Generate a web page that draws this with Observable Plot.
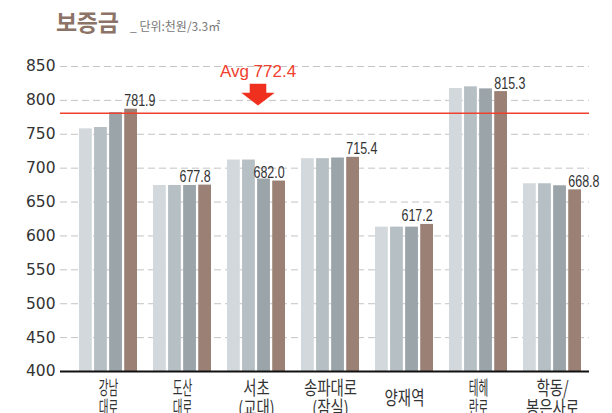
<!DOCTYPE html>
<html><head><meta charset="utf-8">
<script src="https://cdn.jsdelivr.net/npm/d3@7"></script>
<script src="https://cdn.jsdelivr.net/npm/@observablehq/plot@0.6"></script>
<style>
body{margin:0;background:#fff;}
#hdr{position:relative;height:44px;width:612px;}
#t{position:absolute;left:56px;top:8px;font:bold 23px/26px "Noto Sans CJK KR";color:#8c7367;letter-spacing:-0.3px;white-space:nowrap}
#s{position:absolute;left:130px;top:19px;font:12px/14px "Noto Sans CJK KR";color:#777;white-space:nowrap}
</style></head><body>
<div id="hdr"><span id="t">보증금</span><span id="s">_ 단위:천원/3.3㎡</span></div>
<div id="chart"></div>
<script>
const categories = ["강남대로", "도산대로", "서초(교대)", "송파대로(잠실)", "양재역", "테헤란로", "학동/봉은사로"];
const catLabels = ["강남\n대로", "도산\n대로", "서초\n(교대)", "송파대로\n(잠실)", "양재역", "테헤\n란로", "학동/\n봉은사로"];
const series1 = [758, 674.5, 712, 714, 613, 817.5, 677];
const series2 = [760, 674.5, 712, 714, 613, 820, 677];
const series3 = [782, 674.5, 684, 715, 613, 817, 674];
const series4 = [787, 675, 681, 716, 617, 813, 668];
const valueLabels = ["781.9", "677.8", "682.0", "715.4", "617.2", "815.3", "668.8"];
const avgLabel = "Avg 772.4";
const avgLine = 781;
const avgAnchor = "서초(교대)";
const yTicks = [400, 450, 500, 550, 600, 650, 700, 750, 800, 850];
const colors = ["#d2d8db", "#b6bfc3", "#9aa4a9", "#9b8175"];

const series = [series1, series2, series3, series4];
const rows = categories.map((c, i) => ({cat: c, i, v: series.map(s => s[i])}));

const xRange = [68.6, 592.4];
const bw = (xRange[1] - xRange[0]) / categories.length;
const barStep = 15.07, barW = 13.6;
const inset = (bw - barW) / 2;
const bar4Left = 1.5 * barStep - barW / 2;

// label shifted left when the next group would collide with it
const shifted = rows.map((d, i) => i < rows.length - 1 && Math.max(...rows[i + 1].v) > d.v[3] - 30);

const arrowSymbol = {
  draw(ctx, size) {
    const k = Math.sqrt(size / Math.PI);
    ctx.moveTo(-8.3 * k, -10.9 * k);
    ctx.lineTo(8.3 * k, -10.9 * k);
    ctx.lineTo(8.3 * k, -1.9 * k);
    ctx.lineTo(16.7 * k, -1.9 * k);
    ctx.lineTo(0, 10.8 * k);
    ctx.lineTo(-16.7 * k, -1.9 * k);
    ctx.lineTo(-8.3 * k, -1.9 * k);
    ctx.closePath();
  }
};

const marks = [
  Plot.ruleY(yTicks.filter(t => t > 400), {stroke: "#c4c4c4", strokeWidth: 1, strokeDasharray: "7,4"})
];
series.forEach((s, j) => {
  marks.push(Plot.barY(rows, {x: "cat", y1: 400, y2: d => d.v[j], fill: colors[j], insetLeft: inset, insetRight: inset, dx: (j - 1.5) * barStep}));
});
marks.push(
  Plot.ruleY([400], {stroke: "#111", strokeWidth: 2}),
  Plot.ruleY([avgLine], {stroke: "#f0402e", strokeWidth: 1.3}),
  Plot.text(rows.filter((d, i) => !shifted[i]), {x: "cat", y: d => d.v[3], text: d => valueLabels[d.i], textAnchor: "start", lineAnchor: "bottom", dx: bar4Left, dy: -3, fontSize: 16, fontFamily: "Liberation Sans", fill: "#333"}),
  Plot.text(rows.filter((d, i) => shifted[i]), {x: "cat", y: d => d.v[3], text: d => valueLabels[d.i], textAnchor: "start", lineAnchor: "bottom", dx: -3, dy: -3, fontSize: 16, fontFamily: "Liberation Sans", fill: "#333"}),
  Plot.text([avgLabel], {x: () => avgAnchor, y: () => avgLine, text: d => d, textAnchor: "middle", lineAnchor: "bottom", dx: 1.5, dy: -36, fontSize: 17, fontFamily: "Liberation Sans", fill: "#f0402e"}),
  Plot.dot([avgAnchor], {x: d => d, y: () => avgLine, symbol: arrowSymbol, r: 1, fill: "#f0301e", stroke: "none", dx: 1.5, dy: -18.5}),
  Plot.text(categories, {x: d => d, y: () => 400, text: (d, i) => catLabels[i], textAnchor: "middle", lineAnchor: "middle", lineHeight: 1.06, dy: 27, fontSize: 19, fontFamily: "Noto Sans CJK KR", fill: "#333"})
);

const plot = Plot.plot({
  width: 612,
  height: 369,
  marginTop: 22,
  marginBottom: 42,
  marginLeft: 60,
  marginRight: 23,
  style: {fontFamily: "DejaVu Sans", fontSize: "15.5px", color: "#333", background: "#fff", overflow: "visible"},
  x: {type: "band", domain: categories, range: xRange, padding: 0, axis: null},
  y: {domain: [400, 850], ticks: 9, tickSize: 0, tickPadding: 5, label: null, tickFormat: d => String(d)},
  marks
});
document.getElementById("chart").appendChild(plot);

// horizontal condensation of the label fonts (short labels are set narrower)
const joined = catLabels.map(s => s.replace("\n", ""));
plot.querySelectorAll("text").forEach(t => {
  const txt = t.textContent;
  let sx = null;
  if (valueLabels.includes(txt)) sx = 0.78;
  else {
    const k = joined.indexOf(txt);
    if (k >= 0) {
      const longest = Math.max(...catLabels[k].split("\n").map(l => l.length));
      sx = longest >= 3 ? 0.76 : 0.56;
    }
  }
  if (sx) {
    const tr = t.getAttribute("transform") || "";
    t.setAttribute("transform", tr + ` scale(${sx},1)`);
  }
});
</script>
</body></html>
